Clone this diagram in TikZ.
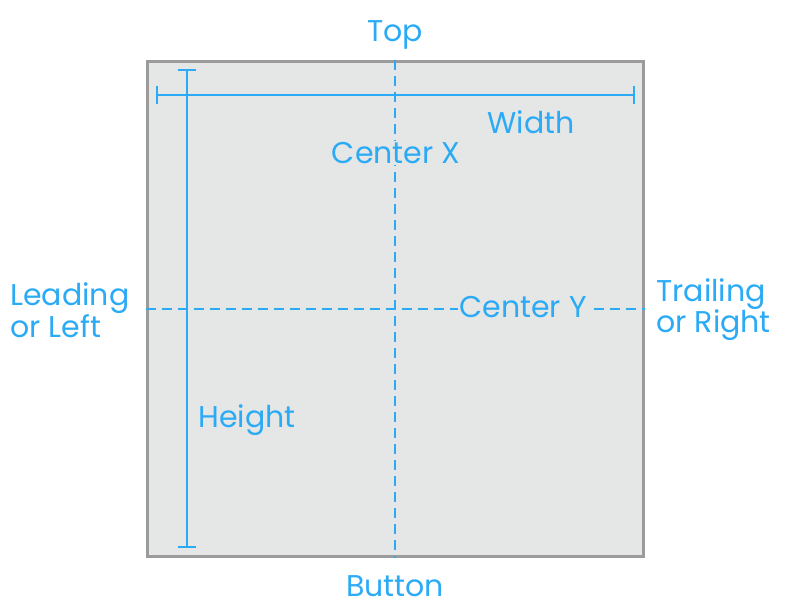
\documentclass[tikz,border=0pt]{standalone}
\usepackage{fontspec}
\setmainfont{Poppins}
\usetikzlibrary{arrows.meta}
\definecolor{guide}{RGB}{43,170,245}
\definecolor{panel}{RGB}{229,230,230}
\definecolor{frame}{RGB}{155,155,155}
\begin{document}
\begin{tikzpicture}[x=1pt, y=-1pt, thick,
	label/.style = {text=guide, font=\fontsize{30}{31}\selectfont, inner sep=1pt},
	guideline/.style = {draw=guide, line width=2pt},
	dashline/.style = {draw=guide, line width=2pt, dash pattern=on 10pt off 6pt},
	measure/.style = {guideline, {Bar[width=18pt]}-{Bar[width=18pt]}}]

		\useasboundingbox (0,0) rectangle (800,608);
		\node[draw=frame, fill=panel, line width=3pt, minimum width=496pt, minimum height=495pt, inner sep=0pt] (view) at (395,308.5) {};

		\draw[dashline] (view.north) to (view.south);
		\draw[dashline] (view.west) to (view.east);

		\coordinate (w1) at (156,95);
		\coordinate (w2) at (635,95);
		\coordinate (h1) at (187,69);
		\coordinate (h2) at (187,548);
		\draw[measure] (w1) to (w2);
		\draw[measure] (h1) to (h2);

		\node[label] (top) at (395,35) {Top};
		\node[label] (bottom) at (395,586) {Button};
		\node[label, align=left, anchor=west] (lead) at (9,310) {Leading\\or Left};
		\node[label, align=left, anchor=west] (trail) at (655,310) {Trailing\\or Right};
		\node[label] (width) at (531,122) {Width};
		\node[label, fill=panel] (cx) at (396,153) {Center X};
		\node[label, fill=panel] (cy) at (523,307) {Center Y};
		\node[label] (height) at (247,420) {Height};
	\end{tikzpicture}
\end{document}
